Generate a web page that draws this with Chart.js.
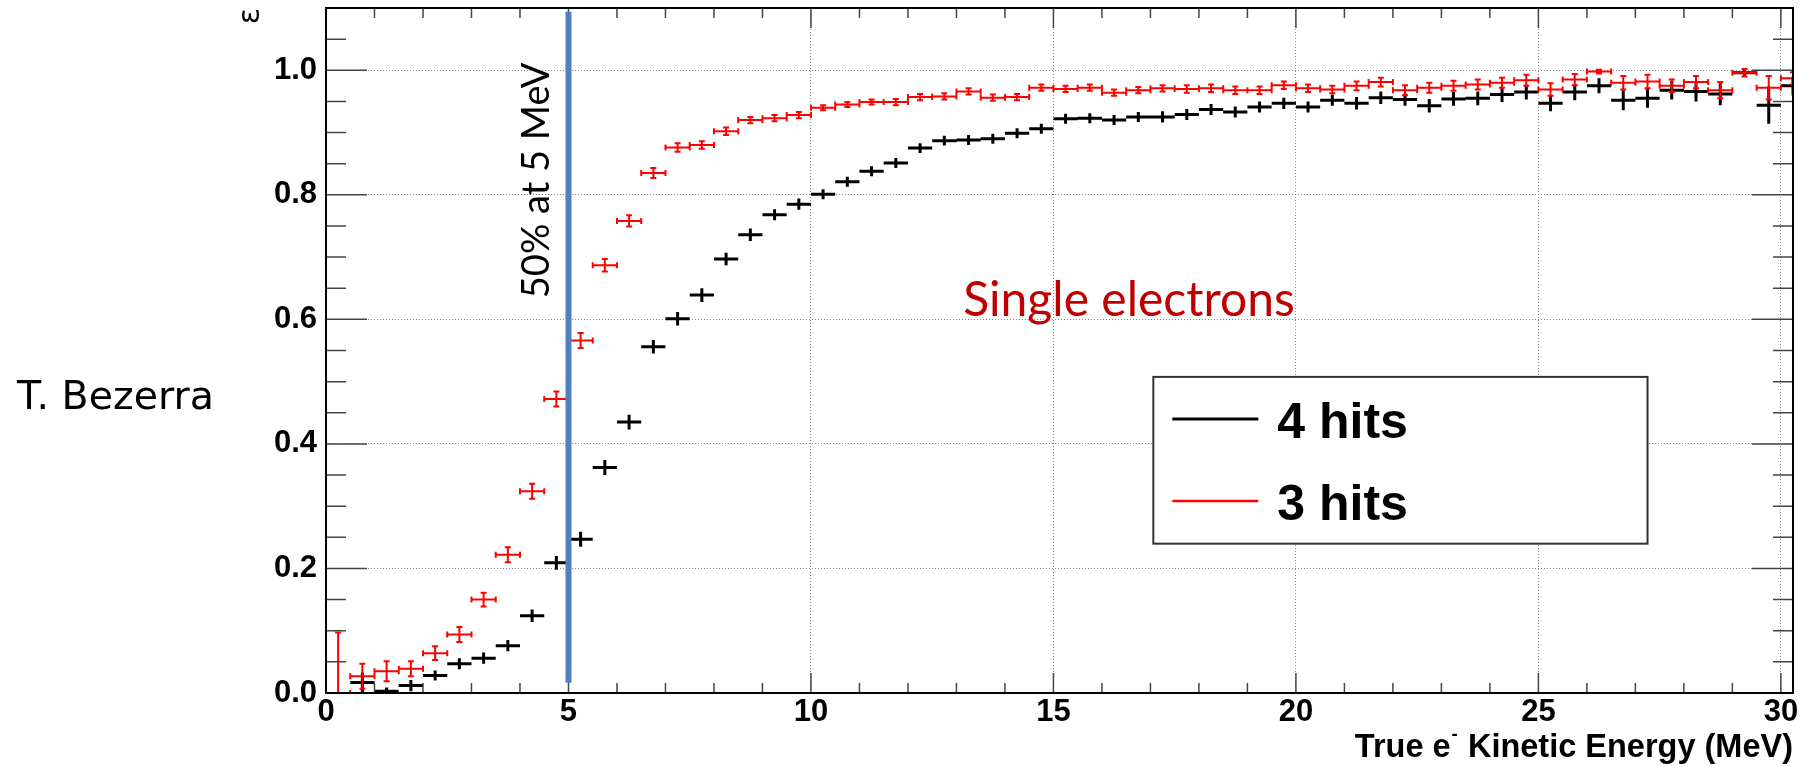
<!DOCTYPE html>
<html>
<head>
<meta charset="utf-8">
<script src="https://cdn.jsdelivr.net/npm/chart.js@4.4.0/dist/chart.umd.min.js"></script>
<style>
  html, body { margin: 0; padding: 0; background: #fff; }
  #wrap { width: 1805px; height: 767px; }
</style>
</head>
<body>
<div id="wrap"><canvas id="effChart" width="1805" height="767"></canvas></div>
<script>
// ===== Data (bin centres in MeV, efficiency and error per bin) =====
const energyMeV = [0.25, 0.75, 1.25, 1.75, 2.25, 2.75, 3.25, 3.75, 4.25, 4.75,
  5.25, 5.75, 6.25, 6.75, 7.25, 7.75, 8.25, 8.75, 9.25, 9.75,
  10.25, 10.75, 11.25, 11.75, 12.25, 12.75, 13.25, 13.75, 14.25, 14.75,
  15.25, 15.75, 16.25, 16.75, 17.25, 17.75, 18.25, 18.75, 19.25, 19.75,
  20.25, 20.75, 21.25, 21.75, 22.25, 22.75, 23.25, 23.75, 24.25, 24.75,
  25.25, 25.75, 26.25, 26.75, 27.25, 27.75, 28.25, 28.75, 29.25, 29.75,
  30.25];

const eff4hits = [null, 0.017, 0.003, 0.012, 0.028, 0.047, 0.056, 0.076, 0.124, 0.209,
  0.247, 0.362, 0.435, 0.556, 0.601, 0.639, 0.697, 0.736, 0.768, 0.785,
  0.801, 0.821, 0.838, 0.851, 0.875, 0.887, 0.888, 0.890, 0.899, 0.906,
  0.922, 0.923, 0.920, 0.925, 0.925, 0.929, 0.937, 0.933, 0.941, 0.947,
  0.941, 0.952, 0.947, 0.956, 0.953, 0.943, 0.954, 0.955, 0.961, 0.965,
  0.947, 0.965, 0.975, 0.952, 0.955, 0.968, 0.966, 0.962, 0.996, 0.944,
  0.975];
const err4hits = [null, 0.016, 0.006, 0.009, 0.008, 0.009, 0.009, 0.009, 0.010, 0.011,
  0.012, 0.012, 0.012, 0.011, 0.011, 0.011, 0.010, 0.010, 0.009, 0.009,
  0.008, 0.008, 0.008, 0.008, 0.008, 0.008, 0.008, 0.008, 0.008, 0.008,
  0.008, 0.008, 0.008, 0.008, 0.009, 0.009, 0.009, 0.009, 0.009, 0.009,
  0.009, 0.009, 0.010, 0.010, 0.010, 0.011, 0.011, 0.011, 0.012, 0.012,
  0.013, 0.013, 0.012, 0.016, 0.015, 0.015, 0.016, 0.018, 0.006, 0.030,
  0.015];

const eff3hits = [0.000, 0.027, 0.035, 0.039, 0.064, 0.094, 0.150, 0.222, 0.324, 0.472,
  0.566, 0.687, 0.758, 0.835, 0.876, 0.880, 0.902, 0.920, 0.923, 0.928,
  0.940, 0.945, 0.949, 0.949, 0.957, 0.958, 0.966, 0.956, 0.957, 0.972,
  0.970, 0.972, 0.964, 0.968, 0.971, 0.970, 0.971, 0.968, 0.968, 0.976,
  0.971, 0.969, 0.975, 0.981, 0.968, 0.972, 0.975, 0.977, 0.980, 0.984,
  0.969, 0.985, 0.998, 0.980, 0.982, 0.975, 0.981, 0.968, 0.996, 0.972,
  0.987];
const err3hits = [0.097, 0.020, 0.016, 0.012, 0.011, 0.012, 0.011, 0.012, 0.012, 0.012,
  0.012, 0.010, 0.009, 0.008, 0.007, 0.006, 0.006, 0.005, 0.005, 0.005,
  0.004, 0.004, 0.004, 0.005, 0.005, 0.005, 0.005, 0.005, 0.005, 0.005,
  0.005, 0.005, 0.005, 0.005, 0.005, 0.006, 0.006, 0.006, 0.006, 0.006,
  0.006, 0.006, 0.007, 0.007, 0.008, 0.008, 0.008, 0.008, 0.008, 0.009,
  0.010, 0.009, 0.003, 0.011, 0.011, 0.010, 0.010, 0.013, 0.006, 0.019,
  0.010];

const seriesLabels = ["4 hits", "3 hits"];
const xTickValues = [0, 5, 10, 15, 20, 25, 30];
const yTickValues = [0, 0.2, 0.4, 0.6, 0.8, 1.0];
const binHalfWidth = 0.25;
const thresholdEnergy = 5;          // the "50% at 5 MeV" marker
const thresholdSpan = [0.0165, 1.094];

const FONT = "'Liberation Sans', Arial, sans-serif";

function toPoints(xs, ys, errs){
  return xs.map((x,i)=>({x, y: ys[i], err: errs[i]})).filter(p=>p.y!==null);
}

// ===== Error crosses (ROOT "E1" style) =====
const errorCrosses = {
  id: 'errorCrosses',
  afterDatasetsDraw(chart){
    const {ctx, chartArea: a, scales: {x, y}} = chart;
    ctx.save();
    ctx.beginPath();
    ctx.rect(a.left, a.top, a.right - a.left, a.bottom - a.top);
    ctx.clip();
    chart.data.datasets.forEach(ds=>{
      ctx.strokeStyle = ds.borderColor;
      ctx.lineWidth = ds.crossWidth;
      ctx.beginPath();
      ds.data.forEach(p=>{
        const px = x.getPixelForValue(p.x), py = y.getPixelForValue(p.y);
        const x0 = x.getPixelForValue(p.x - binHalfWidth), x1 = x.getPixelForValue(p.x + binHalfWidth);
        const y0 = y.getPixelForValue(Math.max(0, p.y - p.err)), y1 = y.getPixelForValue(p.y + p.err);
        ctx.moveTo(x0, py); ctx.lineTo(x1, py);
        ctx.moveTo(px, y0); ctx.lineTo(px, y1);
        const c = ds.capSize;
        if(c){
          ctx.moveTo(x0, py - c); ctx.lineTo(x0, py + c);
          ctx.moveTo(x1, py - c); ctx.lineTo(x1, py + c);
          ctx.moveTo(px - c, y0); ctx.lineTo(px + c, y0);
          ctx.moveTo(px - c, y1); ctx.lineTo(px + c, y1);
        }
      });
      ctx.stroke();
    });
    ctx.restore();
  }
};

// ===== Frame, inner ticks, marker line, labels, legend =====
const decorations = {
  id: 'decorations',
  afterDraw(chart){
    const {ctx, chartArea: a, scales: {x, y}} = chart;
    ctx.save();

    // inward ticks on all four sides
    ctx.strokeStyle = '#444';
    ctx.lineWidth = 1.5;
    ctx.beginPath();
    for(let v=0; v<=30; v++){
      const px = x.getPixelForValue(v);
      const len = v % 5 === 0 ? 20 : 10;
      ctx.moveTo(px, a.bottom); ctx.lineTo(px, a.bottom - len);
      ctx.moveTo(px, a.top); ctx.lineTo(px, a.top + len);
    }
    for(let k=0; k<=22; k++){
      const py = y.getPixelForValue(k*0.05);
      const len = k % 4 === 0 ? 41 : 20;
      ctx.moveTo(a.left, py); ctx.lineTo(a.left + len, py);
      ctx.moveTo(a.right, py); ctx.lineTo(a.right - len, py);
    }
    ctx.stroke();

    // frame
    ctx.strokeStyle = '#000';
    ctx.lineWidth = 2;
    ctx.strokeRect(a.left, a.top, a.right - a.left, a.bottom - a.top);

    // threshold marker
    ctx.strokeStyle = '#4f81bd';
    ctx.lineWidth = 6;
    ctx.beginPath();
    ctx.moveTo(x.getPixelForValue(thresholdEnergy), y.getPixelForValue(thresholdSpan[0]));
    ctx.lineTo(x.getPixelForValue(thresholdEnergy), y.getPixelForValue(thresholdSpan[1]));
    ctx.stroke();

    // rotated "50% at 5 MeV"
    ctx.fillStyle = '#000';
    ctx.font = "38px Lato, 'Open Sans', sans-serif";
    ctx.textAlign = 'left';
    ctx.textBaseline = 'alphabetic';
    ctx.save();
    ctx.translate(x.getPixelForValue(4.6), y.getPixelForValue(0.634));
    ctx.rotate(-Math.PI/2);
    ctx.fillText('50% at 5 MeV', 0, 0);
    ctx.restore();

    // "Single electrons"
    ctx.fillStyle = '#c00000';
    ctx.font = "48px Lato, 'Open Sans', sans-serif";
    ctx.fillText('Single electrons', x.getPixelForValue(13.14), y.getPixelForValue(0.606));

    // legend box
    const bx0 = x.getPixelForValue(17.06), bx1 = x.getPixelForValue(27.25);
    const by0 = y.getPixelForValue(0.5076), by1 = y.getPixelForValue(0.2398);
    ctx.fillStyle = '#fff';
    ctx.fillRect(bx0, by0, bx1 - bx0, by1 - by0);
    ctx.strokeStyle = '#333';
    ctx.lineWidth = 2;
    ctx.strokeRect(bx0, by0, bx1 - bx0, by1 - by0);
    const rowsY = [by0 + 42, by0 + 124];
    chart.data.datasets.forEach((ds,i)=>{
      ctx.strokeStyle = ds.borderColor;
      ctx.lineWidth = ds.legendWidth;
      ctx.beginPath();
      ctx.moveTo(bx0 + 19, rowsY[i]); ctx.lineTo(bx0 + 105, rowsY[i]);
      ctx.stroke();
      ctx.fillStyle = '#000';
      ctx.font = "bold 50px " + FONT;
      ctx.textAlign = 'left';
      ctx.fillText(ds.label, bx0 + 124, rowsY[i] + 19);
    });

    // x-axis title with superscript minus
    ctx.fillStyle = '#000';
    ctx.textAlign = 'right';
    ctx.font = "bold 32.5px " + FONT;
    const base = 757;
    const tail = ' Kinetic Energy (MeV)';
    ctx.fillText(tail, a.right, base);
    let cx = a.right - ctx.measureText(tail).width;
    ctx.font = "bold 19px " + FONT;
    ctx.fillText('-', cx - 1, base - 17);
    cx -= ctx.measureText('-').width + 2;
    ctx.font = "bold 32.5px " + FONT;
    ctx.fillText('True e', cx, base);

    // y-axis title (epsilon), rotated like ROOT
    ctx.save();
    ctx.translate(251, 8);
    ctx.rotate(-Math.PI/2);
    ctx.font = "30px 'DejaVu Sans', sans-serif";
    ctx.textAlign = 'right';
    ctx.textBaseline = 'middle';
    ctx.fillText('ε', 0, 0);
    ctx.restore();

    // author tag
    ctx.font = "39.5px 'DejaVu Sans', sans-serif";
    ctx.textAlign = 'left';
    ctx.textBaseline = 'alphabetic';
    ctx.fillText('T. Bezerra', 17, 409);

    ctx.restore();
  }
};

const ctx = document.getElementById('effChart').getContext('2d');
new Chart(ctx, {
  type: 'scatter',
  data: {
    datasets: [
      { label: seriesLabels[0], data: toPoints(energyMeV, eff4hits, err4hits),
        borderColor: '#000000', crossWidth: 3, capSize: 0, legendWidth: 3 },
      { label: seriesLabels[1], data: toPoints(energyMeV, eff3hits, err3hits),
        borderColor: '#ff0000', crossWidth: 2, capSize: 3, legendWidth: 2.5 }
    ]
  },
  options: {
    responsive: false,
    devicePixelRatio: 1,
    animation: false,
    events: [],
    showLine: false,
    elements: { point: { radius: 0, hoverRadius: 0 } },
    layout: { padding: { top: 8, right: 12, left: 0, bottom: 0 } },
    plugins: { legend: { display: false }, tooltip: { enabled: false } },
    scales: {
      x: {
        type: 'linear', min: 0, max: 30.25,
        afterBuildTicks: axis => { axis.ticks = xTickValues.map(v=>({value: v})); },
        afterFit: axis => { axis.height = 74; axis.paddingLeft = 0; axis.paddingRight = 0; },
        grid: { color: '#8a8a8a', lineWidth: 1, drawTicks: false },
        border: { display: false, dash: [1, 2] },
        ticks: { color: '#000', padding: 1, autoSkip: false, maxRotation: 0,
          font: { family: FONT, size: 31, weight: 'bold' },
          callback: v => String(v) }
      },
      y: {
        type: 'linear', min: 0, max: 1.1,
        afterBuildTicks: axis => { axis.ticks = yTickValues.map(v=>({value: v})); },
        afterFit: axis => { axis.width = 326; axis.paddingTop = 0; axis.paddingBottom = 0; },
        grid: { color: '#8a8a8a', lineWidth: 1, drawTicks: false },
        border: { display: false, dash: [1, 2] },
        ticks: { color: '#000', padding: 9, autoSkip: false,
          font: { family: FONT, size: 31, weight: 'bold' },
          callback: v => Number(v).toFixed(1) }
      }
    }
  },
  plugins: [errorCrosses, decorations]
});
</script>
</body>
</html>
